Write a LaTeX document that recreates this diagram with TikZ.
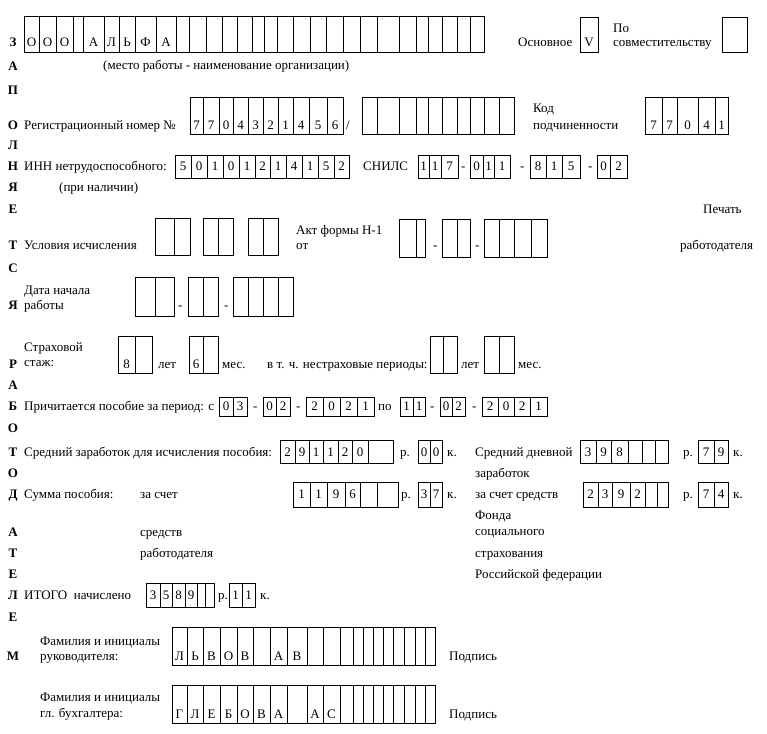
\documentclass[tikz,border=0pt]{standalone}
\usepackage{fontspec}
\setmainfont{Liberation Serif}
\usepackage{tikz}
\usetikzlibrary{positioning}
\tikzset{
  cellbox/.style={
    draw=black,
    line width=0.9pt
  },
  celltxt/.style={
    anchor=base,
    inner sep=0pt
  },
  lbl/.style={
    anchor=base west,
    inner sep=0pt
  },
  side/.style={
    anchor=base,
    inner sep=0pt,
    font=\fontsize{13}{15}\selectfont\bfseries
  }
}
% row of cells: top, bottom, baseline, list x1/x2/char
\newcommand\cells[4]{%
  \foreach \a/\b/\c in {#4}{
    \draw[cellbox] (\a,#1) rectangle (\b,#2);
    \node[celltxt] (c-\a-#1) at ({(\a+\b)/2},#3) {\c};
  }}

\begin{document}
\begin{tikzpicture}[x=1pt, y=-1pt, font=\fontsize{13}{15}\selectfont]
\useasboundingbox (0,0) rectangle (767,733);

% Side letters
\foreach \y/\t [count=\i] in {47/З,71/А,95/П,129/О,149/Л,170/Н,191/Я,213/Е,249/Т,272/С,309/Я,368/Р,389/А,410/Б,432/О,456/Т,477/О,498/Д,536/А,557/Т,578/Е,599/Л,621/Е,660/М}
  \node[side] (m\i) at (13,\y) {\t};

% Place of work
\cells{16}{52}{47}{24/39/О,39/56/О,56/73/О,73/83/{},83/104/А,104/119/Л,119/135/Ь,135/156/Ф,156/176/А,176/189/{},189/206/{},206/222/{},222/237/{},237/252/{},252/264/{},264/277/{},277/293/{},293/310/{},310/326/{},326/343/{},343/360/{},360/377/{},377/399/{},399/416/{},416/428/{},428/442/{},442/457/{},457/470/{},470/484/{}}
\node[lbl] (main) at (518,47) {Основное};
\cells{17}{52}{47}{580/598/V}
\node[lbl] (part1) at (613,33) {По};
\node[lbl] (part2) at (613,47) {совместительству};
\cells{17}{52}{47}{722/747/{}}
\node[lbl] (place) at (103,70) {(место работы - наименование организации)};

% Registration number
\node[lbl] (regno) at (24,129) {Регистрационный номер №};
\cells{97}{134}{129}{190/203/7,203/219/7,219/233/0,233/248/4,248/263/3,263/278/2,278/293/1,293/309/4,309/327/5,327/343/6}
\node[lbl] (slash) at (346,129) {/};
\cells{97}{134}{129}{362/377/{},377/399/{},399/416/{},416/428/{},428/442/{},442/457/{},457/470/{},470/484/{},484/499/{},499/514/{}}
\node[lbl] (kod1) at (533,112) {Код};
\node[lbl] (kod2) at (533,129) {подчиненности};
\cells{97}{134}{129}{645/662/7,662/677/7,677/698/0,698/715/4,715/728/1}

% INN and SNILS
\node[lbl] (inn) at (24,170) {ИНН нетрудоспособного:};
\cells{155}{178}{170}{175/191/5,191/207/0,207/223/1,223/239/0,239/255/1,255/270/2,270/286/1,286/302/4,302/318/1,318/334/5,334/349/2}
\node[lbl] (snils) at (363,170) {СНИЛС};
\cells{155}{178}{170}{418/429/1,429/441/1,441/458/7}
\node[lbl] (d1) at (461,170) {-};
\cells{155}{178}{170}{470/483/0,483/494/1,494/510/1}
\node[lbl] (d2) at (520,170) {-};
\cells{155}{178}{170}{530/546/8,546/562/1,562/580/5}
\node[lbl] (d3) at (588,170) {-};
\cells{155}{178}{170}{597/610/0,610/627/2}
\node[lbl] (avail) at (59,191) {(при наличии)};
\node[lbl] (stamp1) at (703,213) {Печать};

% Conditions
\node[lbl] (cond) at (24,249) {Условия исчисления};
\cells{218}{255}{249}{155/174/{},174/190/{},203/218/{},218/233/{},248/263/{},263/278/{}}
\node[lbl] (act1) at (296,234) {Акт формы Н-1};
\node[lbl] (act2) at (296,249) {от};
\cells{219}{257}{249}{399/416/{},416/425/{}}
\node[lbl] (d4) at (433,249) {-};
\cells{219}{257}{249}{442/457/{},457/470/{}}
\node[lbl] (d5) at (475,249) {-};
\cells{219}{257}{249}{484/499/{},499/514/{},514/531/{},531/547/{}}
\node[lbl] (stamp2) at (680,249) {работодателя};

% Start date
\node[lbl] (start1) at (24,294) {Дата начала};
\node[lbl] (start2) at (24,309) {работы};
\cells{277}{316}{309}{135/155/{},155/174/{}}
\node[lbl] (d6) at (178,309) {-};
\cells{277}{316}{309}{188/203/{},203/218/{}}
\node[lbl] (d7) at (224,309) {-};
\cells{277}{316}{309}{233/248/{},248/263/{},263/278/{},278/293/{}}

% Insurance record
\node[lbl] (ins1) at (24,351) {Страховой};
\node[lbl] (ins2) at (24,366) {стаж:};
\cells{336}{373}{368}{118/135/8,135/152/{}}
\node[lbl] (y1) at (158,368) {лет};
\cells{336}{373}{368}{189/203/6,203/218/{}}
\node[lbl] (mo1) at (222,368) {мес.};
\node[lbl] (nonins) at (267,368) {в т. ч. нестраховые периоды:};
\cells{336}{373}{368}{430/443/{},443/457/{}}
\node[lbl] (y2) at (461,368) {лет};
\cells{336}{373}{368}{484/499/{},499/514/{}}
\node[lbl] (mo2) at (518,368) {мес.};

% Period
\node[lbl] (period) at (24,410) {Причитается пособие за период: с};
\cells{397}{416}{410}{219/233/0,233/247/3}
\node[lbl] (d8) at (253,410) {-};
\cells{397}{416}{410}{263/276/0,276/290/2}
\node[lbl] (d9) at (296,410) {-};
\cells{397}{416}{410}{306/323/2,323/340/0,340/357/2,357/374/1}
\node[lbl] (till) at (378,410) {по};
\cells{397}{416}{410}{400/413/1,413/425/1}
\node[lbl] (d10) at (430,410) {-};
\cells{397}{416}{410}{440/452/0,452/465/2}
\node[lbl] (d11) at (472,410) {-};
\cells{397}{416}{410}{482/498/2,498/514/0,514/530/2,530/547/1}

% Average earnings
\node[lbl] (avg) at (24,456) {Средний заработок для исчисления пособия:};
\cells{440}{463}{456}{280/295/2,295/309/9,309/323/1,323/338/1,338/352/2,352/368/0,368/393/{}}
\node[lbl] (r1) at (400,456) {р.};
\cells{440}{463}{456}{418/430/0,430/442/0}
\node[lbl] (k1) at (447,456) {к.};
\node[lbl] (day1) at (475,456) {Средний дневной};
\node[lbl] (day2) at (475,477) {заработок};
\cells{440}{463}{456}{580/596/3,596/611/9,611/628/8,628/642/{},642/655/{},655/668/{}}
\node[lbl] (r2) at (683,456) {р.};
\cells{440}{463}{456}{698/714/7,714/728/9}
\node[lbl] (k2) at (733,456) {к.};

% Benefit amount
\node[lbl] (sum) at (24,498) {Сумма пособия:};
\node[lbl] (emp1) at (140,498) {за счет};
\node[lbl] (emp2) at (140,536) {средств};
\node[lbl] (emp3) at (140,557) {работодателя};
\cells{482}{507}{498}{293/310/1,310/327/1,327/345/9,345/360/6,360/377/{},377/398/{}}
\node[lbl] (r3) at (401,498) {р.};
\cells{482}{507}{498}{418/430/3,430/442/7}
\node[lbl] (k3) at (447,498) {к.};
\node[lbl] (fss1) at (475,498) {за счет средств};
\node[lbl] (fss2) at (475,519) {Фонда};
\node[lbl] (fss3) at (475,535) {социального};
\node[lbl] (fss4) at (475,557) {страхования};
\node[lbl] (fss5) at (475,578) {Российской федерации};
\cells{482}{507}{498}{583/598/2,598/612/3,612/630/9,630/645/2,645/657/{},657/668/{}}
\node[lbl] (r4) at (683,498) {р.};
\cells{482}{507}{498}{698/714/7,714/728/4}
\node[lbl] (k4) at (733,498) {к.};

% Total
\node[lbl] (total) at (24,599) {ИТОГО\enspace начислено};
\cells{583}{607}{599}{146/160/3,160/172/5,172/185/8,185/197/9,197/205/{},205/214/{}}
\node[lbl] (r5) at (218,599) {р.};
\cells{583}{607}{599}{229/242/1,242/255/1}
\node[lbl] (k5) at (260,599) {к.};

% Signatures
\node[lbl] (head1) at (40,645) {Фамилия и инициалы};
\node[lbl] (head2) at (40,660) {руководителя:};
\cells{627}{665}{660}{172/187/Л,187/203/Ь,203/220/В,220/237/О,237/253/В,253/270/{},270/287/А,287/307/В,307/323/{},323/340/{},340/353/{},353/363/{},363/373/{},373/383/{},383/393/{},393/404/{},404/415/{},415/425/{},425/435/{}}
\node[lbl] (sign1) at (449,660) {Подпись};
\node[lbl] (acc1) at (40,701) {Фамилия и инициалы};
\node[lbl] (acc2) at (40,717) {гл. бухгалтера:};
\cells{685}{723}{718}{172/187/Г,187/203/Л,203/220/Е,220/237/Б,237/253/О,253/270/В,270/287/А,287/307/{},307/323/А,323/340/С,340/353/{},353/363/{},363/373/{},373/383/{},383/393/{},393/404/{},404/415/{},415/425/{},425/435/{}}
\node[lbl] (sign2) at (449,718) {Подпись};

\end{tikzpicture}
\end{document}
